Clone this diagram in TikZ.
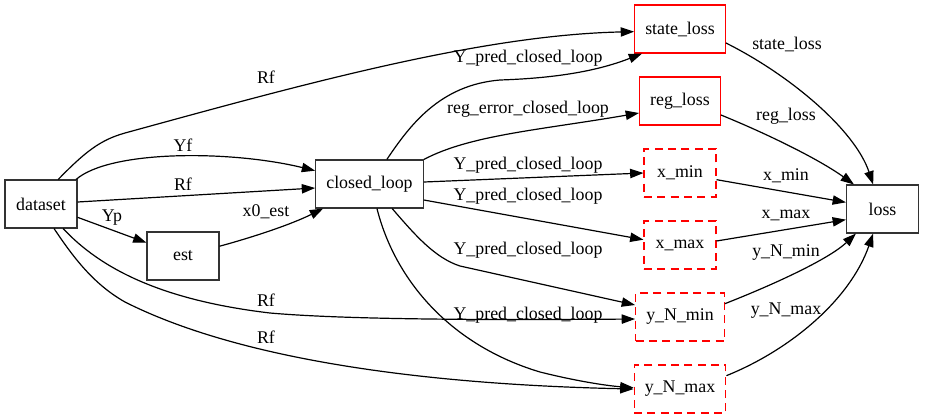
\documentclass[tikz,border=0pt]{standalone}
\usepackage{fontspec}
\setmainfont{Liberation Serif}
\usetikzlibrary{arrows.meta}
\begin{document}
\begin{tikzpicture}[x=0.75pt,y=-0.75pt,
	font=\rmfamily\fontsize{13.4}{16}\selectfont,
	box/.style={draw=black!80,line width=0.8pt,minimum width=54pt,minimum height=36pt,inner xsep=8pt},
	lossbox/.style={box,draw=red},
	limbox/.style={box,draw=red,dash pattern=on 6pt off 4pt},
	lab/.style={inner sep=0pt},
	link/.style={-{Triangle[length=10pt,width=7pt]},line width=0.9pt}]
	\useasboundingbox (0,0) rectangle (929,419);
	\node [box] (dataset) at (41,204) {dataset};
	\node [box] (est) at (183,256) {est};
	\node [box] (closed_loop) at (369.5,184) {closed\_loop};
	\node [lossbox] (state_loss) at (680,29) {state\_loss};
	\node [lossbox] (reg_loss) at (680,101) {reg\_loss};
	\node [limbox] (x_min) at (680,173) {x\_min};
	\node [limbox] (x_max) at (680,245) {x\_max};
	\node [limbox] (y_N_min) at (680,317) {y\_N\_min};
	\node [limbox] (y_N_max) at (680,389) {y\_N\_max};
	\node [box] (loss) at (882.5,209) {loss};
	\draw [link] (dataset.55) .. controls (85,152) and (100,140) .. (125,133) .. controls (300,85) and (480,35) .. ([yshift=-2pt]state_loss.west) node [lab] (l_rf1) at (266,77) {Rf};
	\draw [link] (dataset.35) .. controls (110,150) and (230,150) .. ([yshift=10pt]closed_loop.west) node [lab] (l_yf) at (183,145) {Yf};
	\draw [link] ([yshift=1.5pt]dataset.east) -- ([yshift=-3pt]closed_loop.west) node [lab] (l_rf2) at (183,184) {Rf};
	\draw [link] (dataset.-20) -- (est.160) node [lab] (l_yp) at (112,218) {Yp};
	\draw [link] (est.15) .. controls (250,238) and (290,225) .. ([xshift=6pt]closed_loop.south west) node [lab] (l_x0) at (266,212) {x0\_est};
	\draw [link] (dataset.-48) .. controls (100,268) and (160,300) .. (270,313) .. controls (350,320) and (500,320) .. ([yshift=-1.5pt]y_N_min.west) node [lab] (l_rf3) at (266,300) {Rf};
	\draw [link] (dataset.-62) .. controls (75,260) and (95,285) .. (125,302) .. controls (250,365) and (450,385) .. (y_N_max.west) node [lab] (l_rf4) at (266,337) {Rf};
	\draw [link] ([xshift=13pt]closed_loop.north) .. controls (410,125) and (440,85) .. (500,80) .. controls (560,78) and (600,70) .. ([xshift=6pt]state_loss.south west) node [lab] (l_yp1) at (528,58) {Y\_pred\_closed\_loop};
	\draw [link] (closed_loop.north east) .. controls (470,135) and (540,130) .. ([yshift=-9pt]reg_loss.west) node [lab] (l_reg) at (528,109) {reg\_error\_closed\_loop};
	\draw [link] ([yshift=1.5pt]closed_loop.east) -- (x_min.west) node [lab] (l_yp2) at (528,165) {Y\_pred\_closed\_loop};
	\draw [link] ([yshift=-12pt]closed_loop.east) -- ([yshift=4pt]x_max.west) node [lab] (l_yp3) at (528,196) {Y\_pred\_closed\_loop};
	\draw [link] ([xshift=17pt]closed_loop.south) .. controls (415,235) and (435,258) .. (460,266) -- ([yshift=9pt]y_N_min.west) node [lab] (l_yp4) at (528,250) {Y\_pred\_closed\_loop};
	\draw [link] ([xshift=5.6pt]closed_loop.south) .. controls (395,280) and (450,345) .. (540,372) .. controls (580,382) and (610,386) .. ([yshift=1pt]y_N_max.west) node [lab] (l_yp5) at (528,315) {Y\_pred\_closed\_loop};
	\draw [link] ([yshift=-10.5pt]state_loss.east) .. controls (790,75) and (855,130) .. ([xshift=-7pt]loss.north) node [lab] (l_sl) at (787,44) {state\_loss};
	\draw [link] ([yshift=-10.5pt]reg_loss.east) .. controls (770,135) and (820,160) .. ([xshift=6pt]loss.north west) node [lab] (l_rl) at (786,116) {reg\_loss};
	\draw [link] ([yshift=-5pt]x_min.east) -- ([yshift=5pt]loss.west) node [lab] (l_xmin) at (786,176) {x\_min};
	\draw [link] ([yshift=3pt]x_max.east) -- ([yshift=-8pt]loss.west) node [lab] (l_xmax) at (786,215) {x\_max};
	\draw [link] ([yshift=10pt]y_N_min.east) .. controls (780,282) and (830,258) .. ([xshift=7.5pt]loss.south west) node [lab] (l_ymin) at (786,253) {y\_N\_min};
	\draw [link] ([yshift=10pt]y_N_max.east) .. controls (790,350) and (850,300) .. ([xshift=-7pt]loss.south) node [lab] (l_ymax) at (786,311) {y\_N\_max};
\end{tikzpicture}
\end{document}
